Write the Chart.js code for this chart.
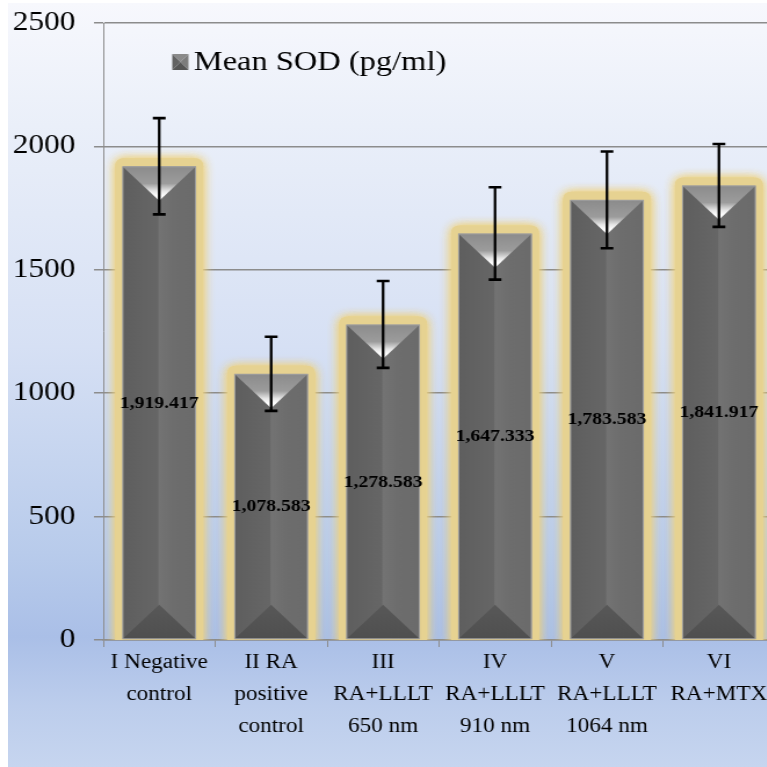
<!DOCTYPE html>
<html>
<head>
<meta charset="utf-8">
<script src="https://cdn.jsdelivr.net/npm/chart.js@4.4.1/dist/chart.umd.min.js"></script>
<style>
html,body{margin:0;padding:0;width:767px;height:767px;overflow:hidden;background:#fff;}
#frame{position:absolute;left:8px;top:3px;width:759px;height:764px;
  background:linear-gradient(to bottom,#f7f8fd 0%,#eaeff9 16%,#d6e0f4 45%,#b8cbeb 72%,#aabfe7 83%,#bccdec 92%,#c6d5ef 100%);}
#wrap{position:absolute;left:0;top:0;width:680px;height:767px;transform:scaleX(1.16);transform-origin:0 0;}
</style>
</head>
<body>
<div id="frame"></div>
<div id="wrap"><canvas id="sod-chart" width="680" height="767"></canvas></div>
<script>
const groupLabels=[
    ["I Negative","control"],
    ["II RA","positive","control"],
    ["III","RA+LLLT","650 nm"],
    ["IV","RA+LLLT","910 nm"],
    ["V","RA+LLLT","1064 nm"],
    ["VI","RA+MTX"]
];
const meanSOD=[1919.417,1078.583,1278.583,1647.333,1783.583,1841.917];
const sdSOD=[195,150,176,187,196,168];
const seriesName="Mean SOD (pg/ml)";
const yTicks=[0,500,1000,1500,2000,2500];

const serif='"Liberation Serif","Times New Roman",serif';

const roundRect=(ctx,x,y,w,h,r)=>{
    ctx.beginPath();
    ctx.moveTo(x+r,y);
    ctx.lineTo(x+w-r,y);
    ctx.quadraticCurveTo(x+w,y,x+w,y+r);
    ctx.lineTo(x+w,y+h-r);
    ctx.quadraticCurveTo(x+w,y+h,x+w-r,y+h);
    ctx.lineTo(x+r,y+h);
    ctx.quadraticCurveTo(x,y+h,x,y+h-r);
    ctx.lineTo(x,y+r);
    ctx.quadraticCurveTo(x,y,x+r,y);
    ctx.closePath();
}

// glow, bevel, error bars, value labels and legend
const decorPlugin={
    id:"decor",
    beforeDatasetsDraw(chart){
        const {ctx,chartArea}=chart;
        ctx.save();
        ctx.beginPath();
        ctx.rect(chartArea.left+1,chartArea.top-30,chartArea.width,chartArea.bottom-chartArea.top+30);
        ctx.clip();
        chart.getDatasetMeta(0).data.forEach(bar=>{
            const p=bar.getProps(["x","y","base","width"],true);
            const l=p.x-p.width/2;
            ctx.shadowColor="rgba(238,210,125,1)";
            ctx.shadowBlur=10;
            ctx.fillStyle="rgba(230,210,145,0.95)";
            roundRect(ctx,l-6,p.y-8,p.width+12,p.base-p.y+16,8);
            ctx.fill();
            ctx.fill();
        });
        ctx.restore();
    },
    afterDatasetsDraw(chart){
        const {ctx}=chart;
        const y=chart.scales.y;
        const bars=chart.getDatasetMeta(0).data;
        bars.forEach((bar,i)=>{
            const p=bar.getProps(["x","y","base","width"],true);
            const l=p.x-p.width/2, r=p.x+p.width/2, t=p.y, b=p.base;
            const d=p.width/2*1.08;
            ctx.save();
            // body shading
            const g=ctx.createLinearGradient(l,0,r,0);
            g.addColorStop(0,"#5e5e5e");
            g.addColorStop(0.48,"#666666");
            g.addColorStop(0.5,"#737373");
            g.addColorStop(0.7,"#6d6d6d");
            g.addColorStop(1,"#6b6b6b");
            ctx.fillStyle=g;
            ctx.fillRect(l+0.5,t+0.5,p.width-1,b-t-1);
            // top bevel
            const tg=ctx.createLinearGradient(0,t,0,t+d);
            tg.addColorStop(0,"#8b8b8b");
            tg.addColorStop(0.5,"#9c9c9c");
            tg.addColorStop(0.72,"#e6e6e6");
            tg.addColorStop(0.85,"#ffffff");
            tg.addColorStop(1,"#ffffff");
            ctx.fillStyle=tg;
            ctx.beginPath();
            ctx.moveTo(l+0.5,t+0.5);
            ctx.lineTo(r-0.5,t+0.5);
            ctx.lineTo(p.x,t+d);
            ctx.closePath();
            ctx.fill();
            // bottom bevel
            const bg=ctx.createLinearGradient(0,b-d,0,b);
            bg.addColorStop(0,"#585858");
            bg.addColorStop(1,"#4f4f4f");
            ctx.fillStyle=bg;
            ctx.beginPath();
            ctx.moveTo(l+0.5,b-0.5);
            ctx.lineTo(r-0.5,b-0.5);
            ctx.lineTo(p.x,b-d);
            ctx.closePath();
            ctx.fill();
            ctx.strokeStyle="#a0a0a0";
            ctx.lineWidth=1;
            ctx.strokeRect(l+0.5,t+0.5,p.width-1,b-t-1);
            ctx.restore();

            // error bar
            const hi=y.getPixelForValue(meanSOD[i]+sdSOD[i]);
            const lo=y.getPixelForValue(meanSOD[i]-sdSOD[i]);
            ctx.save();
            ctx.strokeStyle="#000";
            ctx.lineWidth=2.3;
            ctx.beginPath();
            ctx.moveTo(p.x,hi);ctx.lineTo(p.x,lo);
            ctx.stroke();
            ctx.lineWidth=2.6;
            ctx.beginPath();
            ctx.moveTo(p.x-5.5,hi);ctx.lineTo(p.x+5.5,hi);
            ctx.moveTo(p.x-5.5,lo);ctx.lineTo(p.x+5.5,lo);
            ctx.stroke();
            ctx.restore();

            // value label in middle of bar
            ctx.save();
            ctx.font="bold 17px "+serif;
            ctx.fillStyle="#000";
            ctx.textAlign="center";
            ctx.textBaseline="middle";
            const txt=meanSOD[i].toLocaleString("en-US",{minimumFractionDigits:3});
            ctx.fillText(txt,p.x,y.getPixelForValue(meanSOD[i]/2));
            ctx.restore();
        });

        // legend
        const lx=148.5, ly=54;
        const s=14, h=16;
        ctx.save();
        const tri=(pts,c)=>{
            ctx.fillStyle=c;
            ctx.beginPath();
            ctx.moveTo(pts[0],pts[1]);ctx.lineTo(pts[2],pts[3]);ctx.lineTo(pts[4],pts[5]);
            ctx.closePath();ctx.fill();
        }
        const cx=lx+s/2, cy=ly+h/2;
        tri([lx,ly,lx+s,ly,cx,cy],"#8a8a8a");
        tri([lx+s,ly,lx+s,ly+h,cx,cy],"#7c7c7c");
        tri([lx,ly+h,lx+s,ly+h,cx,cy],"#555555");
        tri([lx,ly,lx,ly+h,cx,cy],"#626262");
        ctx.font="28px "+serif;
        ctx.fillStyle="#000";
        ctx.textAlign="left";
        ctx.textBaseline="middle";
        ctx.fillText(chart.data.datasets[0].label,167,63);
        ctx.restore();
    }
}

const ctxEl=document.getElementById("sod-chart");
let sodChart=new Chart(ctxEl,{
    type:"bar",
    data:{
        labels:groupLabels,
        datasets:[{
            label:seriesName,
            data:meanSOD,
            backgroundColor:"#686868",
            borderColor:"#a0a0a0",
            borderWidth:1,
            barPercentage:0.66,
            categoryPercentage:1
        }]
    },
    options:{
        responsive:false,
        animation:false,
        devicePixelRatio:1,
        layout:{padding:{top:23,right:12,left:0,bottom:0}},
        plugins:{legend:{display:false},tooltip:{enabled:false}},
        scales:{
            x:{
                afterFit:(scale)=>{scale.height=127;scale.paddingTop=0;},
                grid:{display:true,drawOnChartArea:false,drawTicks:true,tickLength:7,color:"#8c8c8c",offset:true},
                border:{display:true,color:"#8c8c8c",width:1.5},
                ticks:{
                    autoSkip:false,maxRotation:0,minRotation:0,padding:0,color:"#000",
                    font:{family:serif,size:20,lineHeight:1.6}
                }
            },
            y:{
                min:0,max:2500,
                afterFit:(scale)=>{scale.width=89;scale.paddingTop=0;scale.paddingBottom=0;},
                afterBuildTicks:(scale)=>{scale.ticks=yTicks.map(v=>({value:v}));},
                grid:{color:"#8c8c8c",lineWidth:1.5,tickLength:8,drawTicks:true},
                border:{display:true,color:"#8c8c8c",width:1},
                ticks:{padding:16,color:"#000",font:{family:serif,size:27},callback:(v)=>String(v)}
            }
        }
    },
    plugins:[decorPlugin]
});
</script>
</body>
</html>
